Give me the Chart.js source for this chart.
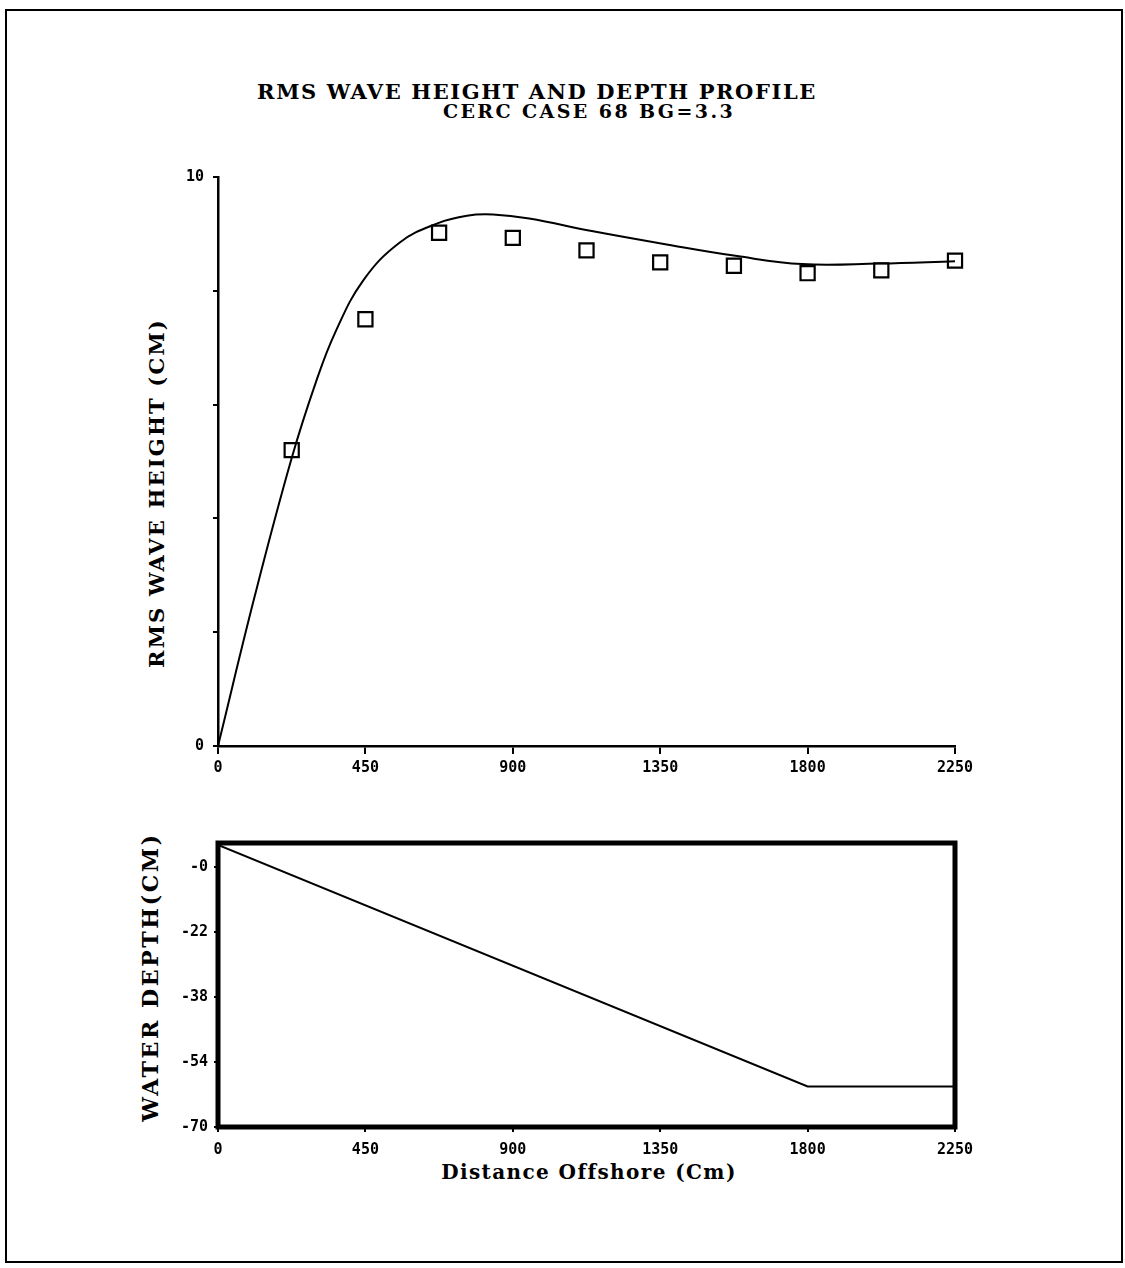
<!DOCTYPE html>
<html><head><meta charset="utf-8">
<script src="https://cdn.jsdelivr.net/npm/chart.js@4.4.1/dist/chart.umd.min.js"></script>
<style>
html,body{margin:0;padding:0;background:#fff;}
body{width:1125px;height:1268px;position:relative;overflow:hidden;}
#frame{position:absolute;left:5px;top:9px;width:1114px;height:1250px;border:2.5px solid #000;}
.t{position:absolute;font-family:"DejaVu Serif",serif;font-weight:bold;color:#000;white-space:nowrap;transform:translate(-50%,-50%);line-height:1;}
.r{transform:translate(-50%,-50%) rotate(-90deg);}
canvas{position:absolute;left:0;}
</style></head><body>
<div id="frame"></div>
<div class="t" style="left:537px;top:91px;font-size:21px;letter-spacing:1.6px">RMS WAVE HEIGHT AND DEPTH PROFILE</div>
<div class="t" style="left:589px;top:111px;font-size:19px;letter-spacing:2.4px">CERC CASE 68 BG=3.3</div>
<div class="t r" style="left:156px;top:493px;font-size:21px;letter-spacing:2.2px">RMS WAVE HEIGHT (CM)</div>
<div class="t r" style="left:150px;top:977px;font-size:22px;letter-spacing:2.6px">WATER DEPTH(CM)</div>
<div class="t" style="left:589px;top:1172px;font-size:20px;letter-spacing:1.4px">Distance Offshore (Cm)</div>
<canvas id="top" width="1125" height="800" style="top:0"></canvas>
<canvas id="bot" width="1125" height="468" style="top:800px"></canvas>
<script>
// ---- data ----
const xTickValues = [0, 450, 900, 1350, 1800, 2250];
const xTickLabels = ['0', '450', '900', '1350', '1800', '2250'];
const heightTickValues = [0, 2, 4, 6, 8, 10];
const heightTickLabels = ['0', '', '', '', '', '10'];
const obsX = [225, 450, 675, 900, 1125, 1350, 1575, 1800, 2025, 2250];
const obsH = [5.20, 7.50, 9.02, 8.93, 8.71, 8.50, 8.44, 8.31, 8.36, 8.53];
const modelX = [0, 112, 225, 301, 358, 443, 555, 672, 760, 840, 950, 1141, 1374, 1585, 1783, 2018, 2250];
const modelH = [0, 2.63, 5.06, 6.43, 7.27, 8.18, 8.85, 9.19, 9.32, 9.34, 9.27, 9.05, 8.81, 8.61, 8.47, 8.48, 8.52];
const depthTickValues = [-70, -54, -38, -22, -6];
const depthTickLabels = ['-70', '-54', '-38', '-22', '-0'];
const depthX = [0, 1800, 2250];
const depthY = [-0.5, -60, -60];

const tickFont = {family: '"DejaVu Sans Mono", monospace', weight: 'bold', size: 15};
const pts = (xs, ys) => xs.map((x, i) => ({x: x, y: ys[i]}));
const setTicks = vals => scale => { scale.ticks = vals.map(v => ({value: v})); };
const xLabel = v => xTickLabels[xTickValues.indexOf(v)];

const boxPlugin = {
  id: 'box',
  afterDraw(chart, args, opts) {
    if (!opts.show) return;
    const a = chart.chartArea, c = chart.ctx;
    c.save(); c.strokeStyle = '#000'; c.lineWidth = 5;
    c.strokeRect(a.left, a.top, a.right - a.left, a.bottom - a.top);
    c.restore();
  }
};
Chart.register(boxPlugin);

new Chart(document.getElementById('top'), {
  type: 'scatter',
  data: {datasets: [
    {data: pts(modelX, modelH), showLine: true, borderColor: '#000', borderWidth: 2,
     pointRadius: 0, tension: 0.4, clip: false},
    {data: pts(obsX, obsH), showLine: false, pointStyle: 'rect', pointRadius: 10,
     borderColor: '#000', borderWidth: 2.2, backgroundColor: 'rgba(0,0,0,0)', clip: false}
  ]},
  options: {
    responsive: false, animation: false, devicePixelRatio: 1,
    layout: {padding: {top: 177, right: 170, bottom: 0, left: 0}},
    plugins: {legend: {display: false}, tooltip: {enabled: false}, box: {show: false}},
    scales: {
      x: {type: 'linear', min: 0, max: 2250,
        afterBuildTicks: setTicks(xTickValues),
        afterFit: s => { s.height = 54; },
        ticks: {font: tickFont, color: '#000', padding: 5, maxRotation: 0, callback: xLabel},
        grid: {drawOnChartArea: false, drawTicks: true, tickLength: 8, color: '#000', lineWidth: 2},
        border: {display: true, color: '#000', width: 2.5}},
      y: {type: 'linear', min: 0, max: 10,
        afterBuildTicks: setTicks(heightTickValues),
        afterFit: s => { s.width = 218; },
        ticks: {font: tickFont, color: '#000', padding: 9,
          callback: (v) => heightTickLabels[heightTickValues.indexOf(v)]},
        grid: {drawOnChartArea: false, drawTicks: true, tickLength: 5, color: '#000', lineWidth: 2},
        border: {display: true, color: '#000', width: 2.5}}
    }
  }
});

new Chart(document.getElementById('bot'), {
  type: 'scatter',
  data: {datasets: [
    {data: pts(depthX, depthY), showLine: true, borderColor: '#000', borderWidth: 2,
     pointRadius: 0, tension: 0}
  ]},
  options: {
    responsive: false, animation: false, devicePixelRatio: 1,
    layout: {padding: {top: 43, right: 170, bottom: 0, left: 0}},
    plugins: {legend: {display: false}, tooltip: {enabled: false}, box: {show: true}},
    scales: {
      x: {type: 'linear', min: 0, max: 2250,
        afterBuildTicks: setTicks(xTickValues),
        afterFit: s => { s.height = 141; },
        ticks: {font: tickFont, color: '#000', padding: 9, maxRotation: 0, callback: xLabel},
        grid: {drawOnChartArea: false, drawTicks: true, tickLength: 5, color: '#000', lineWidth: 2},
        border: {display: false}},
      y: {type: 'linear', min: -70, max: 0,
        afterBuildTicks: setTicks(depthTickValues),
        afterFit: s => { s.width = 218; },
        ticks: {font: tickFont, color: '#000', padding: 6,
          callback: (v) => depthTickLabels[depthTickValues.indexOf(v)]},
        grid: {drawOnChartArea: false, drawTicks: true, tickLength: 4, color: '#000', lineWidth: 2},
        border: {display: false}}
    }
  }
});
</script>
</body></html>
